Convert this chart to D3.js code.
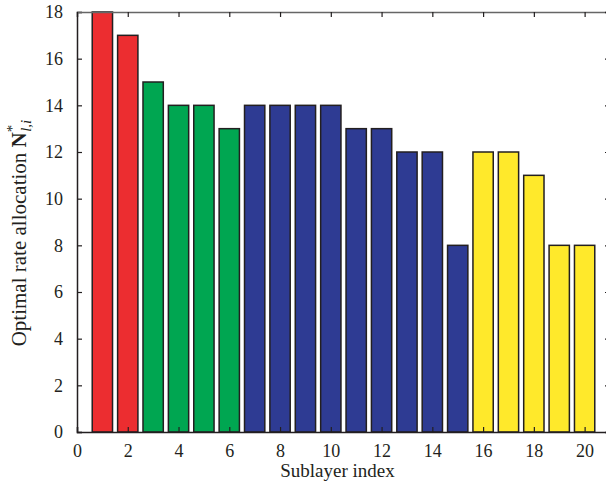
<!DOCTYPE html>
<html lang="en">
	<head>
		<meta charset="utf-8">
		<title>Optimal rate allocation per sublayer</title>
		<script type="text/javascript" src="https://cdn.jsdelivr.net/npm/d3@7/dist/d3.min.js"></script>
		<style type="text/css">
			body { margin: 0; background: #fff; }
			svg { display: block; }
			text { font-family: "Liberation Serif", "DejaVu Serif", serif; fill: #231f20; }
		</style>
	</head>
	<body>
		<script type="text/javascript">
			// data
			var sublayers = d3.range(1, 21);
			var allocation = [18, 17, 15, 14, 14, 13, 14, 14, 14, 14, 13, 13, 12, 12, 8, 12, 12, 11, 8, 8];
			var groups = ["red", "red", "green", "green", "green", "green",
				"blue", "blue", "blue", "blue", "blue", "blue", "blue", "blue", "blue",
				"yellow", "yellow", "yellow", "yellow", "yellow"];
			var xTicks = [0, 2, 4, 6, 8, 10, 12, 14, 16, 18, 20];
			var yTicks = [0, 2, 4, 6, 8, 10, 12, 14, 16, 18];

			var colors = {red: "#ec2d30", green: "#00a651", blue: "#2e3b93", yellow: "#ffe92b"};

			var w = 606;
			var h = 490;
			var margin = {top: 12, right: -4, bottom: 58, left: 77};

			var xScale = d3.scaleLinear()
				.domain([0, 21])
				.range([margin.left, w - margin.right]);

			var yScale = d3.scaleLinear()
				.domain([0, 18])
				.range([h - margin.bottom, margin.top]);

			var svg = d3.select("body")
				.append("svg")
				.attr("width", w)
				.attr("height", h);

			var barW = xScale(0.8) - xScale(0);

			//bars
			svg.selectAll("rect.bar")
				.data(allocation)
				.enter()
				.append("rect")
				.attr("class", "bar")
				.attr("x", function(d, i) { return xScale(sublayers[i]) - barW / 2; })
				.attr("y", function(d) { return yScale(d); })
				.attr("width", barW)
				.attr("height", function(d) { return yScale(0) - yScale(d); })
				.attr("fill", function(d, i) { return colors[groups[i]]; })
				.attr("stroke", "#231f20")
				.attr("stroke-width", 1.5);

			// axes with inward ticks
			var xAxis = d3.axisBottom(xScale).tickValues(xTicks).tickSize(-5).tickPadding(12);
			var yAxis = d3.axisLeft(yScale).tickValues(yTicks).tickSize(-5).tickPadding(14);

			var gx = svg.append("g")
				.attr("transform", "translate(0," + yScale(0) + ")")
				.call(xAxis);
			var gy = svg.append("g")
				.attr("transform", "translate(" + xScale(0) + ",0)")
				.call(yAxis);

			// top and right frame with inward ticks
			var gxt = svg.append("g")
				.attr("transform", "translate(0," + yScale(18) + ")")
				.call(d3.axisTop(xScale).tickValues(xTicks).tickSize(-5).tickFormat(""));
			var gyr = svg.append("g")
				.attr("transform", "translate(" + xScale(21) + ",0)")
				.call(d3.axisRight(yScale).tickValues(yTicks).tickSize(-5).tickFormat(""));

			[gx, gy, gxt, gyr].forEach(function(g) {
				g.attr("font-family", "Liberation Serif, serif").attr("font-size", 18);
				g.select(".domain").attr("stroke", "#231f20").attr("stroke-width", 1.5);
				g.selectAll(".tick line").attr("stroke", "#231f20").attr("stroke-width", 1.2);
				g.selectAll(".tick text").attr("fill", "#231f20");
			});
			gxt.select(".domain").attr("stroke", "#666");

			// axis titles
			svg.append("text")
				.attr("x", (xScale(0) + xScale(21)) / 2 - 6)
				.attr("y", 477)
				.attr("text-anchor", "middle")
				.attr("font-size", "19px")
				.text("Sublayer index");

			var yl = svg.append("text")
				.attr("transform", "translate(26," + 233 + ") rotate(-90)")
				.attr("text-anchor", "middle")
				.attr("font-size", "21px");
			yl.append("tspan").text("Optimal rate allocation ");
			yl.append("tspan").attr("font-weight", "bold").text("N");
			yl.append("tspan").attr("font-size", "15px").attr("dy", -9).text("*");
			yl.append("tspan").attr("font-size", "15px").attr("font-style", "italic").attr("dx", -7).attr("dy", 14).text("l,i");
		</script>
	</body>
</html>
